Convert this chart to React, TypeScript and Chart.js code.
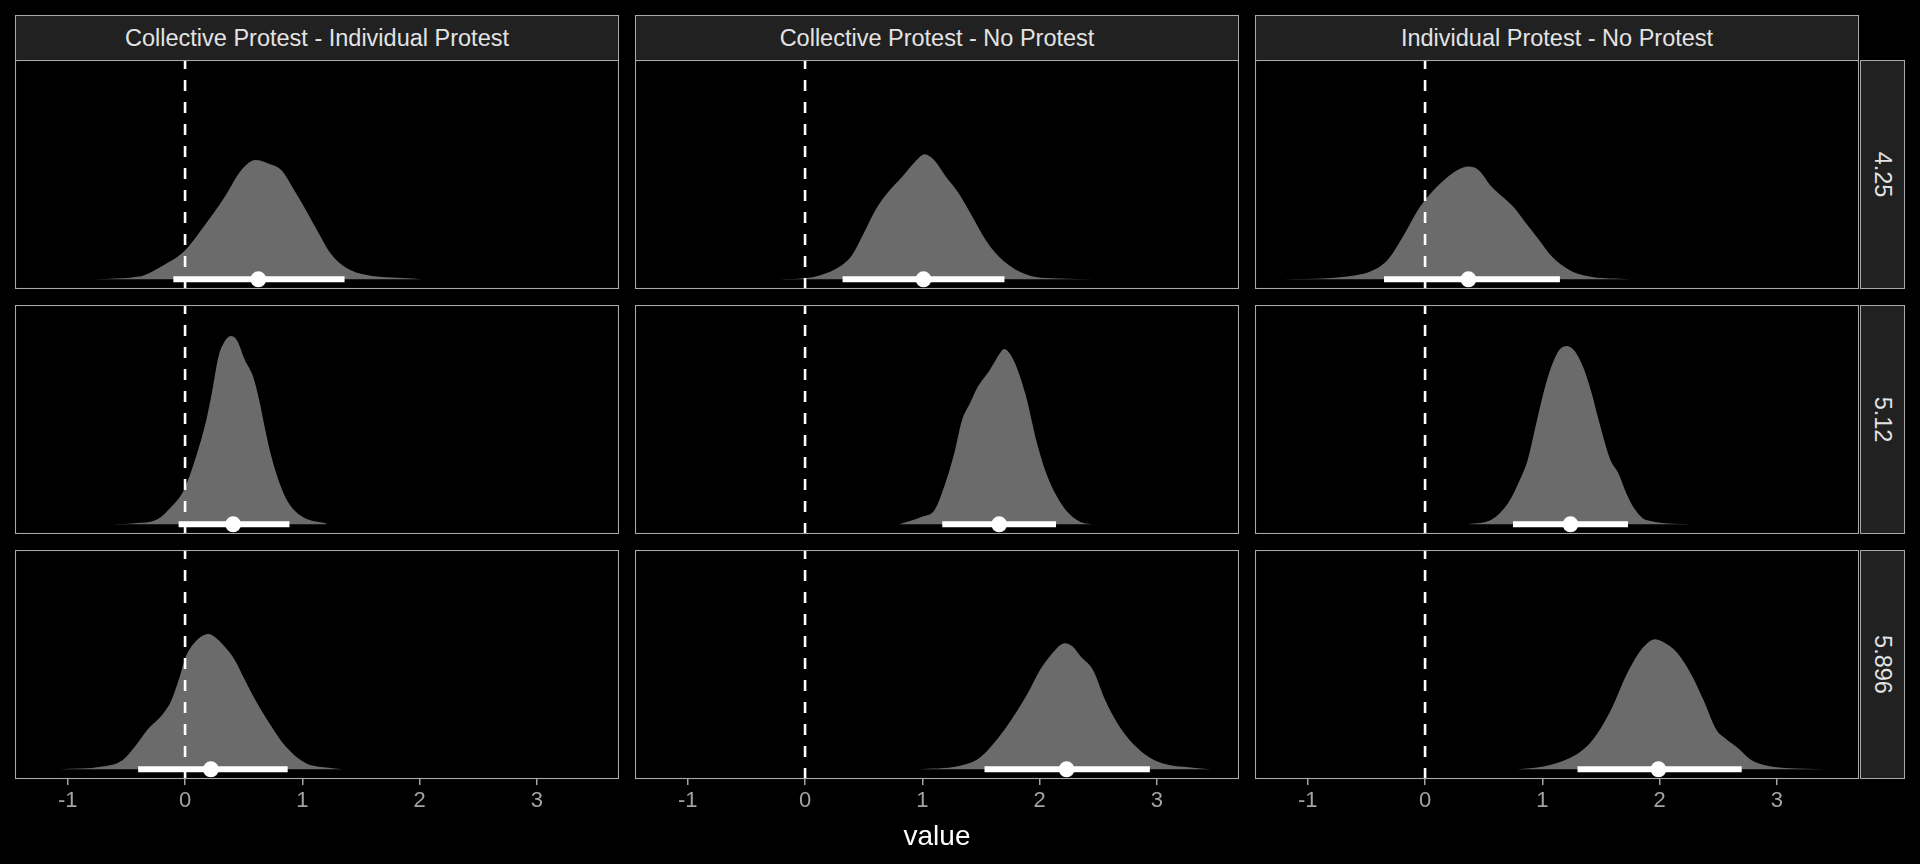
import React, { useEffect, useRef } from "react";
import { Chart, registerables } from "chart.js";

Chart.register(...registerables);

// ---------- labels ----------
const COLUMN_LABELS = [
  "Collective Protest - Individual Protest",
  "Collective Protest - No Protest",
  "Individual Protest - No Protest",
];
const ROW_LABELS = ["4.25", "5.12", "5.896"];
const X_TICKS = [-1, 0, 1, 2, 3];
const X_TITLE = "value";
const REF_LINE = 0;

// ---------- density slabs (x = value, d = slab height) ----------
const X_R1C1 = [-0.79, -0.39, -0.18, -0.01, 0.16, 0.34, 0.48, 0.6, 0.72, 0.82, 0.93, 1.03, 1.14, 1.24, 1.38, 1.55, 1.9, 2.02];
const D_R1C1 = [0, 0.027, 0.143, 0.277, 0.527, 0.827, 1.093, 1.193, 1.153, 1.093, 0.893, 0.693, 0.46, 0.26, 0.11, 0.043, 0.01, 0];

const X_R1C2 = [-0.21, 0.0, 0.13, 0.3, 0.4, 0.5, 0.6, 0.7, 0.83, 0.94, 1.02, 1.1, 1.2, 1.31, 1.41, 1.54, 1.64, 1.74, 1.84, 2.01, 2.62];
const D_R1C2 = [0, 0.01, 0.04, 0.13, 0.24, 0.46, 0.693, 0.86, 1.027, 1.177, 1.25, 1.193, 1.027, 0.86, 0.66, 0.393, 0.243, 0.14, 0.07, 0.015, 0];

const X_R1C3 = [-1.205, -0.837, -0.578, -0.467, -0.32, -0.172, -0.061, 0.049, 0.197, 0.308, 0.374, 0.455, 0.566, 0.75, 0.861, 0.972, 1.082, 1.23, 1.378, 1.747];
const D_R1C3 = [0, 0.01, 0.043, 0.077, 0.193, 0.46, 0.693, 0.86, 1.027, 1.11, 1.127, 1.093, 0.927, 0.727, 0.56, 0.393, 0.227, 0.093, 0.033, 0];

const X_R2C1 = [-0.618, -0.427, -0.236, -0.115, -0.01, 0.094, 0.181, 0.233, 0.285, 0.337, 0.389, 0.441, 0.51, 0.58, 0.632, 0.684, 0.736, 0.806, 0.875, 0.997, 1.205];
const D_R2C1 = [0, 0.01, 0.05, 0.177, 0.343, 0.677, 1.043, 1.343, 1.677, 1.827, 1.883, 1.843, 1.643, 1.477, 1.243, 0.943, 0.677, 0.41, 0.227, 0.077, 0.007];

const X_R2C2 = [0.8, 1.003, 1.104, 1.205, 1.272, 1.339, 1.406, 1.474, 1.575, 1.662, 1.696, 1.777, 1.877, 1.978, 2.046, 2.147, 2.248, 2.382, 2.48];
const D_R2C2 = [0, 0.077, 0.143, 0.443, 0.71, 1.043, 1.21, 1.377, 1.543, 1.71, 1.753, 1.643, 1.31, 0.81, 0.543, 0.277, 0.11, 0.01, 0];

const X_R2C3 = [0.37, 0.572, 0.707, 0.808, 0.875, 0.942, 1.009, 1.077, 1.144, 1.211, 1.279, 1.346, 1.413, 1.48, 1.581, 1.649, 1.716, 1.783, 1.884, 2.254];
const D_R2C3 = [0, 0.05, 0.21, 0.443, 0.643, 0.977, 1.31, 1.577, 1.743, 1.783, 1.727, 1.577, 1.343, 1.043, 0.643, 0.51, 0.31, 0.16, 0.043, 0];

const X_R3C1 = [-1.069, -0.705, -0.531, -0.427, -0.323, -0.184, -0.115, -0.045, 0.007, 0.076, 0.146, 0.205, 0.267, 0.337, 0.424, 0.51, 0.615, 0.719, 0.858, 1.031, 1.205, 1.344];
const D_R3C1 = [0, 0.027, 0.093, 0.227, 0.393, 0.56, 0.693, 0.927, 1.127, 1.26, 1.333, 1.353, 1.31, 1.227, 1.093, 0.893, 0.66, 0.46, 0.227, 0.06, 0.017, 0];

const X_R3C2 = [0.962, 1.309, 1.483, 1.656, 1.795, 1.899, 2.003, 2.108, 2.177, 2.219, 2.281, 2.351, 2.455, 2.559, 2.663, 2.767, 2.906, 3.045, 3.288, 3.462];
const D_R3C2 = [0, 0.033, 0.11, 0.327, 0.56, 0.76, 0.993, 1.16, 1.243, 1.26, 1.227, 1.127, 0.993, 0.693, 0.46, 0.293, 0.143, 0.06, 0.017, 0];

const X_R3C3 = [0.787, 1.009, 1.23, 1.378, 1.489, 1.599, 1.71, 1.821, 1.913, 1.961, 2.024, 2.153, 2.264, 2.374, 2.485, 2.559, 2.67, 2.78, 2.928, 3.076, 3.408];
const D_R3C3 = [0, 0.027, 0.11, 0.227, 0.393, 0.627, 0.927, 1.16, 1.277, 1.3, 1.277, 1.16, 0.96, 0.693, 0.393, 0.31, 0.21, 0.093, 0.033, 0.013, 0];

// ---------- point + interval (row-major: r1c1, r1c2, r1c3, r2c1, ...) ----------
const INTERVAL_LOWER = [-0.1, 0.32, -0.35, -0.055, 1.17, 0.75, -0.4, 1.53, 1.3];
const POINT_ESTIMATE = [0.625, 1.01, 0.37, 0.41, 1.655, 1.24, 0.22, 2.23, 1.99];
const INTERVAL_UPPER = [1.36, 1.7, 1.15, 0.89, 2.14, 1.73, 0.875, 2.94, 2.7];

const DENSITY_X = [X_R1C1, X_R1C2, X_R1C3, X_R2C1, X_R2C2, X_R2C3, X_R3C1, X_R3C2, X_R3C3];
const DENSITY_D = [D_R1C1, D_R1C2, D_R1C3, D_R2C1, D_R2C2, D_R2C3, D_R3C1, D_R3C2, D_R3C3];

// ---------- styling / layout ----------
const X_MIN = -1.45;
const X_MAX = 3.7;
const Y_MIN = -0.097;
const Y_MAX = 2.193;

const FONT = "'Liberation Sans', Arial, Helvetica, sans-serif";
const SLAB = "#6b6b6b";
const BORDER = "#a9a9a9";
const STRIP_BG = "#212121";
const STRIP_TEXT = "#e3e3e3";
const TICK_COLOR = "#a3a3a3";

const COL_LEFT = [15, 635, 1255];
const ROW_TOP = [60, 305, 550];
const PANEL_W = 604;
const PANEL_H = 229;
const AXIS_H = 46;

const borderPlugin = {
  id: "panelBorder",
  afterDraw(chart: any) {
    const { ctx, chartArea } = chart;
    ctx.save();
    ctx.strokeStyle = BORDER;
    ctx.lineWidth = 1.1;
    ctx.strokeRect(
      chartArea.left + 0.5,
      chartArea.top + 0.5,
      chartArea.right - chartArea.left - 1,
      chartArea.bottom - chartArea.top - 1
    );
    ctx.restore();
  },
};

function Panel({ idx }: { idx: number }) {
  const ref = useRef<HTMLCanvasElement | null>(null);
  const row = Math.floor(idx / 3);
  const col = idx % 3;
  const bottom = row === 2;
  const h = PANEL_H + (bottom ? AXIS_H : 0);

  useEffect(() => {
    const canvas = ref.current;
    if (!canvas) return;
    const xs = DENSITY_X[idx];
    const ds = DENSITY_D[idx];
    const density = xs.map((x, i) => ({ x, y: ds[i] }));
    const xScale: any = {
      type: "linear",
      min: X_MIN,
      max: X_MAX,
      display: bottom,
      afterBuildTicks: (s: any) => {
        s.ticks = X_TICKS.map((v) => ({ value: v }));
      },
      grid: {
        drawOnChartArea: false,
        drawTicks: true,
        tickLength: 6,
        color: TICK_COLOR,
        lineWidth: 1.5,
      },
      border: { display: false },
      ticks: {
        color: TICK_COLOR,
        font: { family: FONT, size: 22 },
        padding: 3,
        maxRotation: 0,
        autoSkip: false,
        callback: (v: any) => String(v),
      },
    };
    if (bottom) {
      xScale.afterFit = (s: any) => {
        s.height = AXIS_H;
      };
    }
    const chart = new Chart(canvas, {
      type: "line",
      data: {
        datasets: [
          {
            type: "line",
            data: density,
            fill: "origin",
            backgroundColor: SLAB,
            borderColor: SLAB,
            borderWidth: 0,
            pointRadius: 0,
            cubicInterpolationMode: "monotone",
            order: 4,
          },
          {
            type: "line",
            data: [
              { x: REF_LINE, y: Y_MIN },
              { x: REF_LINE, y: Y_MAX },
            ],
            borderColor: "#ffffff",
            borderWidth: 2.6,
            borderDash: [11, 11],
            pointRadius: 0,
            fill: false,
            order: 3,
          },
          {
            type: "line",
            data: [
              { x: INTERVAL_LOWER[idx], y: 0 },
              { x: INTERVAL_UPPER[idx], y: 0 },
            ],
            borderColor: "#ffffff",
            borderWidth: 6,
            borderCapStyle: "butt",
            pointRadius: 0,
            fill: false,
            order: 2,
          },
          {
            type: "scatter",
            data: [{ x: POINT_ESTIMATE[idx], y: 0 }],
            backgroundColor: "#ffffff",
            borderWidth: 0,
            pointRadius: 8,
            order: 1,
          },
        ],
      } as any,
      options: {
        animation: false,
        responsive: false,
        maintainAspectRatio: false,
        events: [],
        layout: { padding: 0, autoPadding: false },
        plugins: { legend: { display: false }, tooltip: { enabled: false } },
        scales: {
          x: xScale,
          y: { type: "linear", min: Y_MIN, max: Y_MAX, display: false },
        },
      } as any,
      plugins: [borderPlugin],
    });
    return () => chart.destroy();
  }, [idx]);

  return (
    <canvas
      ref={ref}
      width={PANEL_W}
      height={h}
      style={{
        position: "absolute",
        left: COL_LEFT[col],
        top: ROW_TOP[row],
        width: PANEL_W,
        height: h,
      }}
    />
  );
}

export default function App() {
  useEffect(() => {
    document.body.style.margin = "0";
    document.body.style.background = "#000";
  }, []);

  const stripBase: React.CSSProperties = {
    position: "absolute",
    boxSizing: "border-box",
    border: `1px solid ${BORDER}`,
    background: STRIP_BG,
    color: STRIP_TEXT,
    fontFamily: FONT,
    fontSize: 23.5,
    display: "flex",
    alignItems: "center",
    justifyContent: "center",
    whiteSpace: "nowrap",
  };

  return (
    <div
      style={{
        position: "fixed",
        left: 0,
        top: 0,
        width: 1920,
        height: 864,
        background: "#000",
        overflow: "hidden",
      }}
    >
      {COLUMN_LABELS.map((lab, c) => (
        <div
          key={"c" + c}
          style={{ ...stripBase, left: COL_LEFT[c], top: 15, width: PANEL_W, height: 46 }}
        >
          {lab}
        </div>
      ))}
      {ROW_LABELS.map((lab, r) => (
        <div
          key={"r" + r}
          style={{ ...stripBase, left: COL_LEFT[2] + PANEL_W + 1, top: ROW_TOP[r], width: 45, height: PANEL_H }}
        >
          <span style={{ display: "inline-block", transform: "rotate(90deg)" }}>{lab}</span>
        </div>
      ))}
      {Array.from({ length: 9 }, (_, i) => (
        <Panel key={i} idx={i} />
      ))}
      <div
        style={{
          position: "absolute",
          left: COL_LEFT[1],
          width: PANEL_W,
          top: 819,
          height: 34,
          lineHeight: "34px",
          textAlign: "center",
          color: "#ffffff",
          fontFamily: FONT,
          fontSize: 28,
        }}
      >
        {X_TITLE}
      </div>
    </div>
  );
}
